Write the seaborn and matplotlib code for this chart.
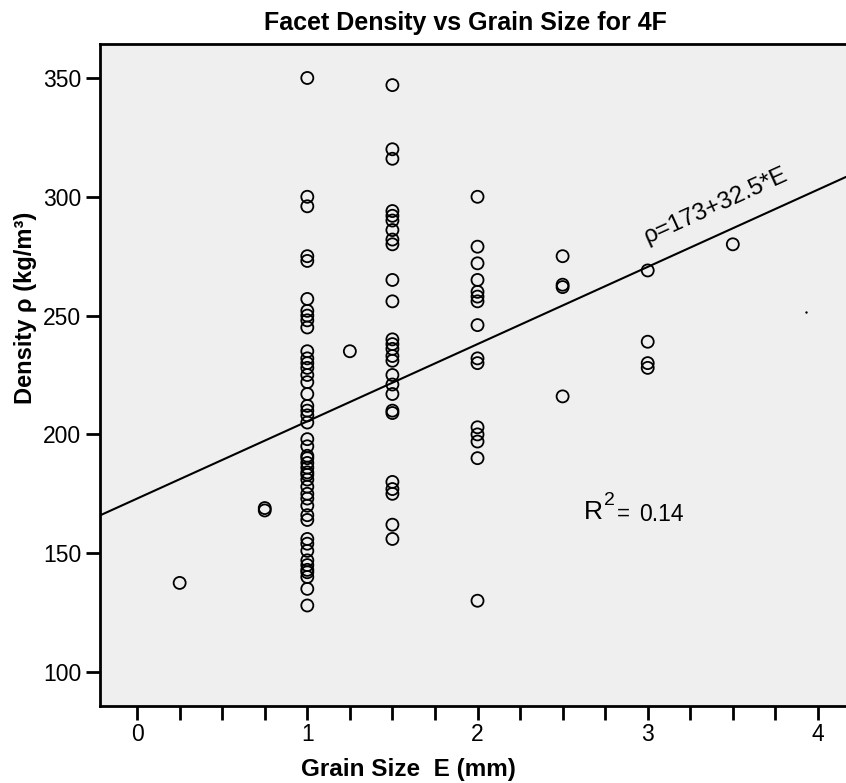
import numpy as np
import pandas as pd
import matplotlib
matplotlib.use("Agg")
import matplotlib.pyplot as plt
from matplotlib.ticker import MultipleLocator
import seaborn as sns

# grain size E (mm) per column of points, and the densities
e_0_25 = [137.5]
e_0_75 = [169, 168]
e_1_0 = [350, 300, 296, 275, 273, 257, 252, 250, 248, 245, 235, 232, 230,
         228, 225, 222, 217, 212, 210, 208, 205, 198, 195, 191, 190, 188,
         186, 184, 183, 181, 178, 175, 173, 170, 166, 164, 156, 154, 151,
         147, 145, 143, 142, 140, 135, 128]
e_1_25 = [235]
e_1_5 = [347, 320, 316, 294, 292, 290, 286, 282, 280, 265, 256, 240, 238,
         236, 233, 231, 225, 221, 217, 210, 209, 180, 177, 175, 162, 156]
e_2_0 = [300, 279, 272, 265, 260, 258, 256, 246, 232, 230, 203, 200, 197,
         190, 130]
e_2_5 = [275, 263, 262, 216]
e_3_0 = [269, 239, 230, 228]
e_3_5 = [280]

groups = {0.25: e_0_25, 0.75: e_0_75, 1.0: e_1_0, 1.25: e_1_25, 1.5: e_1_5,
          2.0: e_2_0, 2.5: e_2_5, 3.0: e_3_0, 3.5: e_3_5}

rows = []
for grain, dens in groups.items():
    for d in dens:
        rows.append((grain, d))
df = pd.DataFrame(rows, columns=["grain", "density"])

# fitted line given on the chart: rho = 173 + 32.5*E, R^2 = 0.14
intercept = 173
slope = 32.5
r_squared = 0.14

# a stray dot in the original figure
stray_x = [3.93]
stray_y = [251.5]

sns.set_style("white")
plt.rcParams["font.family"] = ["Liberation Sans", "DejaVu Sans"]
plt.rcParams["text.color"] = "black"
plt.rcParams["axes.labelcolor"] = "black"
plt.rcParams["xtick.color"] = "black"
plt.rcParams["ytick.color"] = "black"

fig = plt.figure(figsize=(8.46, 7.83), dpi=100)
ax = fig.add_axes([100 / 846, 1 - 706 / 783, 1 - 100 / 846, (706 - 44) / 783])
ax.set_facecolor("#efefef")

sns.scatterplot(data=df, x="grain", y="density", ax=ax, marker="o", s=75,
                facecolor="none", edgecolor="black", linewidth=1.3, zorder=3)
sns.scatterplot(x=stray_x, y=stray_y, ax=ax, s=3, color="black", linewidth=0)
ax.axline((0, intercept), slope=slope, color="black", lw=1.5, zorder=2)

ax.set_xlim(-0.218, 4.165)
ax.set_ylim(85.7, 364.3)
ax.xaxis.set_major_locator(MultipleLocator(1))
ax.xaxis.set_minor_locator(MultipleLocator(0.25))
ax.yaxis.set_major_locator(MultipleLocator(50))
ax.tick_params(axis="both", which="both", direction="out", length=10, width=2,
               labelsize=16.5, bottom=True, left=True)
ax.tick_params(axis="x", pad=2)

for side in ["left", "bottom", "top"]:
    ax.spines[side].set_color("black")
    ax.spines[side].set_linewidth(2)
ax.spines["right"].set_visible(False)

ax.set_xlabel("Grain Size  E (mm)", fontsize=17.5, fontweight="bold")
ax.xaxis.set_label_coords(0.414, -0.078)
ax.set_ylabel("Density ρ (kg/m³)", fontsize=17, fontweight="bold")
ax.yaxis.set_label_coords(-0.085, 0.601)
ax.set_title("Facet Density vs Grain Size for 4F", fontsize=18, fontweight="bold",
             pad=10, x=0.49)

ax.text(3.40, 296, f"ρ={intercept}+{slope}*E", fontsize=17.5, rotation=24.4,
        rotation_mode="anchor", ha="center", va="center")
ax.text(2.624, 167.3, "R", fontsize=19, ha="left", va="center")
ax.text(2.745, 172, "2", fontsize=14, ha="left", va="center")
ax.text(2.82, 166.5, "=", fontsize=16, ha="left", va="center")
ax.text(2.95, 166.5, f"{r_squared}", fontsize=16.5, ha="left", va="center")

fig.savefig("out.png", dpi=100)
